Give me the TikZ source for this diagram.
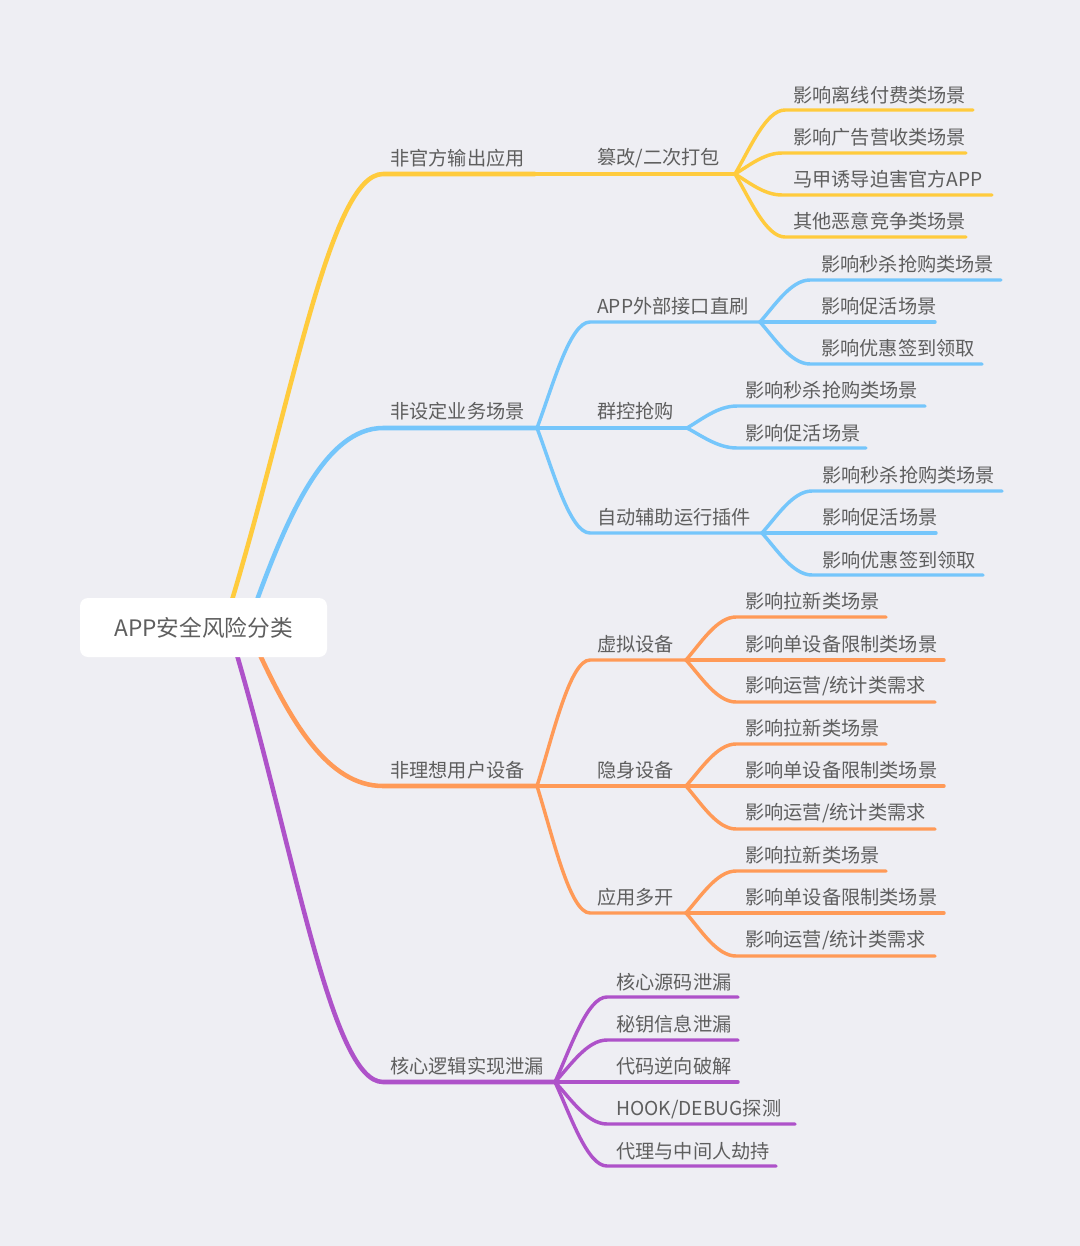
\documentclass[tikz,border=0pt]{standalone}
\usepackage{fontspec}
\setmainfont{Noto Sans CJK SC}
\usetikzlibrary{calc}
\definecolor{bg}{HTML}{EEEEF3}
\definecolor{cy}{HTML}{FFCB3D}
\definecolor{cb}{HTML}{75C6FB}
\definecolor{co}{HTML}{FF9A57}
\definecolor{cp}{HTML}{AE52C9}
\definecolor{txt}{HTML}{5E5E5E}
\newcommand\mmcurve[7]{%
  \draw[#1] let \p1=(#2), \p2=(#3) in (#2) .. controls ({\x1+#5*(\x2-\x1)},{\y1+#6*(\y2-\y1)}) and ({\x1+#7*(\x2-\x1)},\y2) .. (#3) -- (#4);}
\newcommand\leafc[4]{\mmcurve{#1}{#2}{#3}{#4}{0.3}{0.4}{0.62}}
\tikzset{
  lvone/.style={line width=3.4pt, line cap=round},
  lvtwo/.style={line width=2.6pt, line cap=round},
  lab/.style={anchor=west, inner sep=0pt, text=txt, font=\fontsize{14.4pt}{16pt}\selectfont},
}
\begin{document}
\begin{tikzpicture}[x=0.75pt,y=-0.75pt]
\fill[bg] (0,0) rectangle (1080,1246);
\useasboundingbox (0,0) rectangle (1080,1246);

% ---------- Yellow ----------
\coordinate (ys) at (232,600);
\coordinate (ya) at (383,174);
\coordinate (yf) at (535,174);
\coordinate (yg) at (735,174);
\mmcurve{lvone,cy}{ys}{ya}{yf}{0.4}{0.47}{0.65}
\draw[lvtwo,cy] (yf) -- (yg);
\coordinate (y1a) at (785,110); \coordinate (y1e) at (973,110);
\coordinate (y2a) at (782,153); \coordinate (y2e) at (966,153);
\coordinate (y3a) at (782,195); \coordinate (y3e) at (992,195);
\coordinate (y4a) at (785,237); \coordinate (y4e) at (966,237);
\leafc{lvtwo,cy}{yg}{y1a}{y1e}
\leafc{lvtwo,cy}{yg}{y2a}{y2e}
\leafc{lvtwo,cy}{yg}{y3a}{y3e}
\leafc{lvtwo,cy}{yg}{y4a}{y4e}

% ---------- Blue ----------
\coordinate (bs) at (257,600);
\coordinate (ba) at (383,428);
\coordinate (bf) at (537,428);
\mmcurve{lvone,cb}{bs}{ba}{bf}{0.25}{0.5}{0.55}
% APP外部接口直刷
\coordinate (bAa) at (590,322); \coordinate (bAf) at (760,322);
\leafc{lvtwo,cb}{bf}{bAa}{bAf}
\coordinate (bA1a) at (810,280); \coordinate (bA1e) at (1001,280);
\coordinate (bA2e) at (935,322);
\coordinate (bA3a) at (810,364); \coordinate (bA3e) at (982,364);
\leafc{lvtwo,cb}{bAf}{bA1a}{bA1e}
\draw[lvtwo,cb] (bAf) -- (bA2e);
\leafc{lvtwo,cb}{bAf}{bA3a}{bA3e}
% 群控抢购
\coordinate (bBf) at (687,428);
\draw[lvtwo,cb] (bf) -- (bBf);
\coordinate (bB1a) at (737,406); \coordinate (bB1e) at (925,406);
\coordinate (bB2a) at (737,448); \coordinate (bB2e) at (866,448);
\leafc{lvtwo,cb}{bBf}{bB1a}{bB1e}
\leafc{lvtwo,cb}{bBf}{bB2a}{bB2e}
% 自动辅助运行插件
\coordinate (bCa) at (590,533); \coordinate (bCf) at (762,533);
\leafc{lvtwo,cb}{bf}{bCa}{bCf}
\coordinate (bC1a) at (812,491); \coordinate (bC1e) at (1002,491);
\coordinate (bC2e) at (936,533);
\coordinate (bC3a) at (812,575); \coordinate (bC3e) at (983,575);
\leafc{lvtwo,cb}{bCf}{bC1a}{bC1e}
\draw[lvtwo,cb] (bCf) -- (bC2e);
\leafc{lvtwo,cb}{bCf}{bC3a}{bC3e}

% ---------- Orange ----------
\coordinate (os) at (260,655);
\coordinate (oa) at (383,786);
\coordinate (of) at (537,786);
\mmcurve{lvone,co}{os}{oa}{of}{0.25}{0.5}{0.55}
% 虚拟设备
\coordinate (oAa) at (590,660); \coordinate (oAf) at (686,660);
\leafc{lvtwo,co}{of}{oAa}{oAf}
\coordinate (oA1a) at (736,617); \coordinate (oA1e) at (886,617);
\coordinate (oA2e) at (944,660);
\coordinate (oA3a) at (736,702); \coordinate (oA3e) at (935,702);
\leafc{lvtwo,co}{oAf}{oA1a}{oA1e}
\draw[lvtwo,co] (oAf) -- (oA2e);
\leafc{lvtwo,co}{oAf}{oA3a}{oA3e}
% 隐身设备
\coordinate (oBf) at (686,786);
\draw[lvtwo,co] (of) -- (oBf);
\coordinate (oB1a) at (736,744); \coordinate (oB1e) at (886,744);
\coordinate (oB2e) at (944,786);
\coordinate (oB3a) at (736,829); \coordinate (oB3e) at (935,829);
\leafc{lvtwo,co}{oBf}{oB1a}{oB1e}
\draw[lvtwo,co] (oBf) -- (oB2e);
\leafc{lvtwo,co}{oBf}{oB3a}{oB3e}
% 应用多开
\coordinate (oCa) at (590,913); \coordinate (oCf) at (686,913);
\leafc{lvtwo,co}{of}{oCa}{oCf}
\coordinate (oC1a) at (736,871); \coordinate (oC1e) at (886,871);
\coordinate (oC2e) at (944,913);
\coordinate (oC3a) at (736,956); \coordinate (oC3e) at (935,956);
\leafc{lvtwo,co}{oCf}{oC1a}{oC1e}
\draw[lvtwo,co] (oCf) -- (oC2e);
\leafc{lvtwo,co}{oCf}{oC3a}{oC3e}

% ---------- Purple ----------
\coordinate (ps) at (237,655);
\coordinate (pa) at (383,1082);
\coordinate (pf) at (555,1082);
\mmcurve{lvone,cp}{ps}{pa}{pf}{0.4}{0.47}{0.65}
\coordinate (p1a) at (607,997); \coordinate (p1e) at (738,997);
\coordinate (p2a) at (607,1040); \coordinate (p2e) at (738,1040);
\coordinate (p3e) at (738,1082);
\coordinate (p4a) at (607,1124); \coordinate (p4e) at (795,1124);
\coordinate (p5a) at (607,1166); \coordinate (p5e) at (776,1166);
\leafc{lvtwo,cp}{pf}{p1a}{p1e}
\leafc{lvtwo,cp}{pf}{p2a}{p2e}
\draw[lvtwo,cp] (pf) -- (p3e);
\leafc{lvtwo,cp}{pf}{p4a}{p4e}
\leafc{lvtwo,cp}{pf}{p5a}{p5e}

% ---------- Root ----------
\node[fill=white, rounded corners=6pt, minimum width=185.25pt, minimum height=44.25pt, inner sep=0pt, text=txt, font=\fontsize{17pt}{20pt}\selectfont] (root) at (203.5,627.5) {APP安全风险分类};

% ---------- Labels ----------
\node[lab] (ly) at (390,158) {非官方输出应用};
\node[lab] (ly2) at (597,158) {篡改/二次打包};
\node[lab] (ly21) at (793,95) {影响离线付费类场景};
\node[lab] (ly22) at (793,137) {影响广告营收类场景};
\node[lab] (ly23) at (793,179) {马甲诱导迫害官方APP};
\node[lab] (ly24) at (793,221) {其他恶意竞争类场景};

\node[lab] (lb) at (390,411) {非设定业务场景};
\node[lab] (lbA) at (597,306) {APP外部接口直刷};
\node[lab] (lbA1) at (821,264) {影响秒杀抢购类场景};
\node[lab] (lbA2) at (821,306) {影响促活场景};
\node[lab] (lbA3) at (821,348) {影响优惠签到领取};
\node[lab] (lbB) at (597,411) {群控抢购};
\node[lab] (lbB1) at (745,390) {影响秒杀抢购类场景};
\node[lab] (lbB2) at (745,433) {影响促活场景};
\node[lab] (lbC) at (597,517) {自动辅助运行插件};
\node[lab] (lbC1) at (822,475) {影响秒杀抢购类场景};
\node[lab] (lbC2) at (822,517) {影响促活场景};
\node[lab] (lbC3) at (822,560) {影响优惠签到领取};

\node[lab] (lo) at (390,770) {非理想用户设备};
\node[lab] (loA) at (597,644) {虚拟设备};
\node[lab] (loA1) at (745,601) {影响拉新类场景};
\node[lab] (loA2) at (745,644) {影响单设备限制类场景};
\node[lab] (loA3) at (745,686) {影响运营/统计类需求};
\node[lab] (loB) at (597,770) {隐身设备};
\node[lab] (loB1) at (745,728) {影响拉新类场景};
\node[lab] (loB2) at (745,770) {影响单设备限制类场景};
\node[lab] (loB3) at (745,813) {影响运营/统计类需求};
\node[lab] (loC) at (597,897) {应用多开};
\node[lab] (loC1) at (745,855) {影响拉新类场景};
\node[lab] (loC2) at (745,897) {影响单设备限制类场景};
\node[lab] (loC3) at (745,940) {影响运营/统计类需求};

\node[lab] (lp) at (390,1066) {核心逻辑实现泄漏};
\node[lab] (lp1) at (616,982) {核心源码泄漏};
\node[lab] (lp2) at (616,1024) {秘钥信息泄漏};
\node[lab] (lp3) at (616,1066) {代码逆向破解};
\node[lab] (lp4) at (616,1109) {HOOK/DEBUG探测};
\node[lab] (lp5) at (616,1151) {代理与中间人劫持};
\end{tikzpicture}
\end{document}
